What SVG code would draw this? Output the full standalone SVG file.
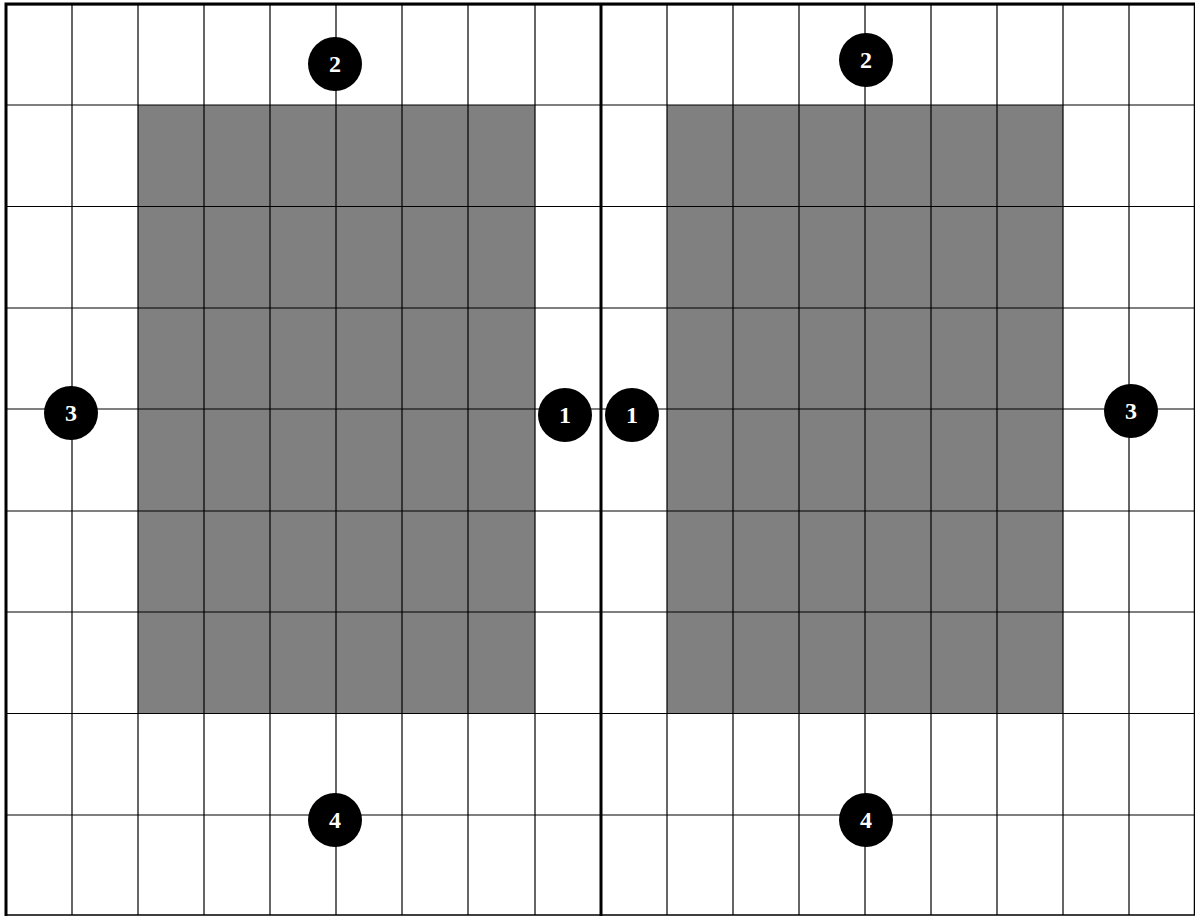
<svg xmlns="http://www.w3.org/2000/svg" width="1195" height="916" viewBox="0 0 1195 916">
<style>
.cell{fill:#808080;stroke:none}
.g{stroke:#000;stroke-width:1.2;fill:none}
.b{stroke:#000;stroke-width:3;fill:none}
.c{fill:#000}
.t{fill:#fff;font-family:"Liberation Serif",serif;font-weight:bold;font-size:24px;text-anchor:middle}
</style>
<rect width="1195" height="916" fill="#fff"/>
<g id="shaded">
<rect class="cell" x="138" y="105" width="397" height="608"/>
<rect class="cell" x="667" y="105" width="396" height="608"/>
</g>
<g id="grid">
<path class="g" d="M72 4V915M138 4V915M204 4V915M270 4V915M336 4V915M402 4V915M468 4V915M535 4V915M667 4V915M733 4V915M799 4V915M865 4V915M931 4V915M997 4V915M1063 4V915M1129 4V915"/>
<path class="g" d="M6 105H1194M6 206.5H1194M6 308H1194M6 409H1194M6 511H1194M6 612H1194M6 713.5H1194M6 815H1194"/>
<path class="b" d="M601 3V916"/>
<path class="b" d="M6 4.5H1194.5V915H6Z" style="stroke-width:1.5"/>
<path class="b" d="M6 3V916M4.5 4H1195"/>
</g>
<g id="n1L"><circle class="c" cx="565" cy="415" r="27"/><text class="t" x="565" y="423">1</text></g>
<g id="n1R"><circle class="c" cx="632" cy="415" r="27"/><text class="t" x="632" y="423">1</text></g>
<g id="n2L"><circle class="c" cx="335" cy="64" r="27"/><text class="t" x="335" y="72">2</text></g>
<g id="n2R"><circle class="c" cx="866" cy="60" r="27"/><text class="t" x="866" y="68">2</text></g>
<g id="n3L"><circle class="c" cx="71" cy="413" r="27"/><text class="t" x="71" y="421">3</text></g>
<g id="n3R"><circle class="c" cx="1131" cy="411" r="27"/><text class="t" x="1131" y="419">3</text></g>
<g id="n4L"><circle class="c" cx="335" cy="820" r="27"/><text class="t" x="335" y="828">4</text></g>
<g id="n4R"><circle class="c" cx="866" cy="820" r="27"/><text class="t" x="866" y="828">4</text></g>
</svg>
